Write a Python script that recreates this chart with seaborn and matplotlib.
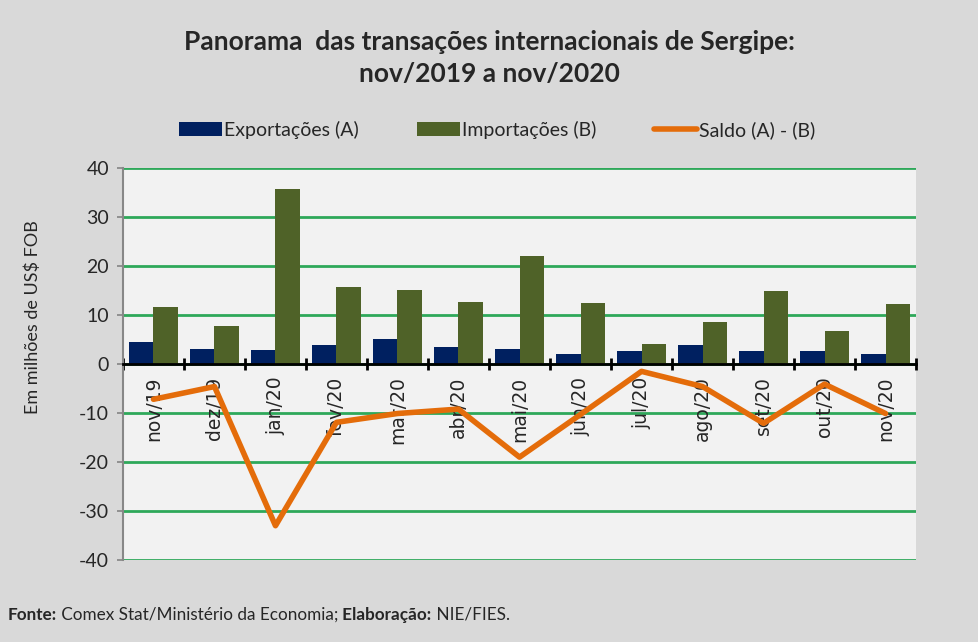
import numpy as np
import pandas as pd
import seaborn as sns
import matplotlib.pyplot as plt

# dados (milhoes de US$ FOB)
meses = ['nov/19', 'dez/19', 'jan/20', 'fev/20', 'mar/20', 'abr/20', 'mai/20',
         'jun/20', 'jul/20', 'ago/20', 'set/20', 'out/20', 'nov/20']
exportacoes = [4.4, 3.1, 2.9, 3.9, 5.1, 3.5, 3.1, 2.1, 2.7, 3.9, 2.7, 2.7, 2.1]
importacoes = [11.6, 7.8, 35.8, 15.8, 15.2, 12.7, 22.0, 12.4, 4.1, 8.5, 14.8, 6.7, 12.2]
saldo = [-7.2, -4.6, -33.0, -11.9, -10.1, -9.2, -19.0, -10.3, -1.5, -4.6, -12.1, -4.1, -10.1]
yticks = [40, 30, 20, 10, 0, -10, -20, -30, -40]

COR_EXP = '#002060'
COR_IMP = '#4f6228'
COR_SALDO = '#e46c0a'
COR_GRADE = '#2ea85a'

sns.set_theme(style='white')
plt.rcParams['font.family'] = ['Liberation Sans Narrow', 'Lato', 'DejaVu Sans']

df = pd.DataFrame({
    'mes': meses * 2,
    'valor': exportacoes + importacoes,
    'serie': ['Exportações (A)'] * len(meses) + ['Importações (B)'] * len(meses),
})

fig = plt.figure(figsize=(9.79, 6.42), dpi=100, facecolor='#d9d9d9')
ax = fig.add_axes([0.1256, 0.1277, 0.8101, 0.6106])
ax.set_facecolor('#f2f2f2')

# grade verde por tras
for v in yticks:
    ax.axhline(v, color=COR_GRADE, lw=2, zorder=0)

sns.barplot(data=df, x='mes', y='valor', hue='serie', order=meses,
            palette=[COR_EXP, COR_IMP], width=0.8, saturation=1,
            edgecolor='none', ax=ax, zorder=2)
sns.lineplot(x=meses, y=saldo, sort=False, color=COR_SALDO, lw=4,
             ax=ax, zorder=4, label='Saldo (A) - (B)')

ax.set_ylim(-40, 40)
ax.set_xlim(-0.5, len(meses) - 0.5)
ax.set_yticks(yticks)
ax.set_yticklabels([str(v) for v in yticks], fontsize=14, family='Lato')
ax.tick_params(axis='y', length=4, color='#888888', left=True, pad=6)

# eixo x cruzando o zero
for s in ['top', 'right']:
    ax.spines[s].set_visible(False)
ax.spines['left'].set_color('#888888')
ax.spines['left'].set_linewidth(1.5)
ax.spines['bottom'].set_position(('data', 0))
ax.spines['bottom'].set_color('black')
ax.spines['bottom'].set_linewidth(2)
ax.spines['bottom'].set_zorder(3)
ax.set_xticks(range(len(meses)))
ax.set_xticklabels(meses, rotation=90, fontsize=13.5, family='DejaVu Sans', va='top')
ax.set_xticks(np.arange(len(meses) + 1) - 0.5, minor=True)
ax.tick_params(axis='x', which='major', length=0, pad=9)
ax.tick_params(axis='x', which='minor', length=9, width=2, direction='inout',
               color='black', bottom=True)

ax.set_xlabel('')
ax.set_ylabel('Em milhões de US$ FOB', fontsize=13, family='Lato')
ax.yaxis.set_label_coords(-0.103, 0.62)

# legenda
h, l = ax.get_legend_handles_labels()
ax.legend(h, l, loc='center', bbox_to_anchor=(0.472, 1.097), ncol=3, frameon=False,
          fontsize=14, handlelength=2.2, handleheight=0.7, columnspacing=3.0,
          handletextpad=0.1)

fig.text(0.5, 0.935, 'Panorama  das transações internacionais de Sergipe:',
         ha='center', va='center', fontsize=19, fontweight='bold')
fig.text(0.5, 0.885, 'nov/2019 a nov/2020', ha='center', va='center',
         fontsize=19, fontweight='bold')

# rodape
fs = 12.3
t1 = fig.text(0.008, 0.035, 'Fonte:', fontsize=fs, fontweight='bold', va='baseline')
t2 = fig.text(0, 0.035, ' Comex Stat/Ministério da Economia;', fontsize=fs, va='baseline')
fig.canvas.draw()
r = fig.canvas.get_renderer()
bb = t1.get_window_extent(r)
t2.set_position((bb.x1 / fig.bbox.width, 0.035))
bb = t2.get_window_extent(r)
t3 = fig.text(bb.x1 / fig.bbox.width, 0.035, ' Elaboração:', fontsize=fs,
              fontweight='bold', va='baseline')
bb = t3.get_window_extent(r)
fig.text(bb.x1 / fig.bbox.width, 0.035, ' NIE/FIES.', fontsize=fs, va='baseline')

fig.savefig('out.png', dpi=100, facecolor=fig.get_facecolor())
